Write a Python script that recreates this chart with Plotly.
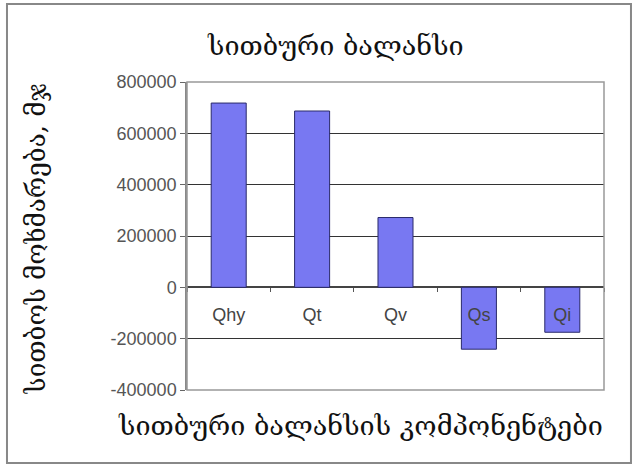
import plotly.graph_objects as go

categories = ["Qhy", "Qt", "Qv", "Qs", "Qi"]
values = [718000, 687000, 272000, -241000, -175000]
y_ticks = [-400000, -200000, 0, 200000, 400000, 600000, 800000]

title_text = "სითბური ბალანსი"
y_title = "სითბოს მოხმარება, მჯ"
x_title = "სითბური ბალანსის კომპონენტები"

geo_font = "DejaVu Serif"
num_font = "Liberation Sans"

fig = go.Figure()
fig.add_trace(go.Bar(
    x=categories, y=values,
    marker=dict(color="#7878f2", line=dict(color="#2a2a6a", width=1)),
    width=0.42,
))

fig.update_layout(
    width=636, height=465,
    margin=dict(l=187, r=32, t=82, b=75),
    paper_bgcolor="white", plot_bgcolor="white",
    showlegend=False,
    xaxis=dict(
        anchor="free", position=1/3,
        showline=False, showgrid=False,
        ticks="outside", tickson="boundaries", ticklen=4, tickcolor="#555",
        tickfont=dict(family=num_font, size=18, color="#444"),
        ticklabelstandoff=15,
        fixedrange=True,
    ),
    yaxis=dict(
        range=[-400000, 800000],
        tickvals=y_ticks,
        ticktext=[str(v) for v in y_ticks],
        showgrid=True, gridcolor="#333", gridwidth=1,
        zeroline=True, zerolinecolor="#444", zerolinewidth=1.5,
        showline=True, linecolor="#888", linewidth=1.5,
        ticks="outside", ticklen=5, tickcolor="#666",
        tickfont=dict(family=num_font, size=18, color="#555"),
    ),
    shapes=[
        dict(type="rect", xref="paper", yref="paper",
             x0=-0.4317, x1=1.0647, y0=-0.237, y1=1.2532,
             line=dict(color="#888", width=2), layer="below"),
        dict(type="rect", xref="paper", yref="paper",
             x0=0, x1=1, y0=0, y1=1,
             line=dict(color="#999", width=1.5), layer="above"),
    ],
    annotations=[
        dict(text=title_text, xref="paper", yref="paper", x=0.357, y=1.12,
             showarrow=False, font=dict(family=geo_font, size=27, color="#111"),
             xanchor="center", yanchor="middle"),
        dict(text=y_title, xref="paper", yref="paper", x=-0.362, y=0.49,
             showarrow=False, textangle=-90,
             font=dict(family=geo_font, size=26, color="#111"),
             xanchor="center", yanchor="middle"),
        dict(text=x_title, xref="paper", yref="paper", x=0.417, y=-0.115,
             showarrow=False, font=dict(family=geo_font, size=27, color="#111"),
             xanchor="center", yanchor="middle"),
    ],
)

fig.write_html("out.html")
